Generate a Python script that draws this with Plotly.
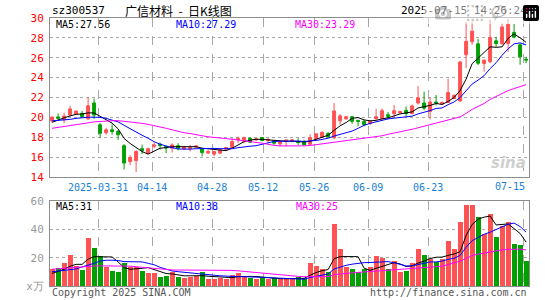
import plotly.graph_objects as go

# ---------------- data ----------------
dates = (
    ["2025-03-%02d" % d for d in [19, 20, 21, 24, 25, 26, 27, 28, 31]]
    + ["2025-04-%02d" % d for d in [1, 2, 3, 7, 8, 9, 10, 11, 14, 15, 16, 17, 18, 21, 22, 23, 24, 25, 28, 29, 30]]
    + ["2025-05-%02d" % d for d in [6, 7, 8, 9, 12, 13, 14, 15, 16, 19, 20, 21, 22, 23, 26, 27, 28, 29, 30]]
    + ["2025-06-%02d" % d for d in [3, 4, 5, 6, 9, 10, 11, 12, 13, 16, 17, 18, 19, 20, 23, 24, 25, 26, 27, 30]]
    + ["2025-07-%02d" % d for d in [1, 2, 3, 4, 7, 8, 9, 10, 11, 14, 15]]
)

opens = [19.63, 20.05, 19.75, 20.25, 20.30, 20.40, 19.85, 21.45, 19.25, 18.45,
         18.75, 18.60, 17.15, 15.55, 15.65, 16.85, 16.35, 17.10, 17.30, 17.07,
         16.90, 17.15, 16.82, 16.85, 17.00, 16.82, 16.42, 16.30, 16.40, 16.80,
         16.97, 17.73, 17.57, 17.90, 17.73, 17.97, 17.67, 17.63, 17.33, 17.57,
         17.63, 17.57, 17.57, 17.30, 17.85, 18.00, 18.40, 17.95, 19.65, 19.85,
         20.07, 19.70, 19.60, 19.37, 19.87, 19.87, 20.27, 20.37, 20.45, 20.70,
         20.40, 21.45, 21.45, 20.60, 21.55, 21.35, 21.50, 21.90, 21.65, 26.30,
         27.60, 27.40, 25.43, 25.60, 27.70, 27.43, 27.43, 28.55, 27.30, 25.85]
highs = [20.10, 20.40, 20.47, 21.15, 20.70, 20.65, 22.00, 21.90, 19.45, 18.95,
         19.30, 18.75, 17.30, 16.20, 16.70, 17.25, 16.95, 17.47, 17.47, 17.13,
         17.40, 17.40, 17.10, 17.23, 17.15, 16.90, 16.73, 16.63, 16.83, 17.00,
         17.90, 18.07, 18.07, 17.97, 17.90, 18.00, 17.90, 17.73, 17.60, 17.75,
         17.80, 17.90, 17.73, 18.30, 18.35, 18.60, 18.50, 21.45, 20.35, 20.15,
         20.10, 19.75, 19.75, 19.75, 20.85, 20.90, 20.55, 21.25, 20.65, 21.10,
         21.30, 23.15, 22.60, 22.00, 22.25, 21.60, 23.90, 22.30, 25.70, 29.60,
         29.65, 27.90, 25.80, 29.85, 28.10, 29.45, 29.90, 29.40, 27.45, 26.10]
lows = [19.50, 19.65, 19.40, 20.05, 20.25, 20.00, 19.75, 19.85, 17.90, 18.25,
        18.25, 17.75, 14.75, 15.20, 14.50, 16.30, 16.30, 16.90, 16.75, 16.40,
        16.47, 16.67, 16.70, 16.57, 16.95, 16.07, 16.30, 16.10, 16.30, 16.70,
        16.90, 17.40, 17.40, 17.45, 17.60, 17.60, 17.40, 17.23, 17.07, 17.07,
        17.50, 17.23, 17.17, 17.20, 17.70, 17.95, 17.95, 17.80, 19.25, 19.75,
        19.35, 19.10, 19.10, 19.25, 19.75, 19.77, 19.80, 20.00, 20.40, 20.10,
        20.30, 21.30, 20.75, 19.80, 21.20, 21.30, 21.45, 21.85, 21.60, 24.95,
        27.30, 25.25, 24.60, 25.43, 27.10, 27.27, 26.60, 27.95, 25.30, 25.45]
closes = [20.03, 19.90, 20.13, 20.85, 20.63, 20.07, 21.17, 20.23, 18.40, 18.75,
          18.57, 18.25, 15.40, 15.97, 16.57, 16.65, 16.85, 17.22, 17.17, 16.92,
          17.23, 16.90, 17.07, 16.97, 17.13, 16.47, 16.57, 16.57, 16.73, 16.97,
          17.57, 17.90, 17.97, 17.50, 17.83, 17.67, 17.80, 17.40, 17.57, 17.73,
          17.73, 17.47, 17.23, 17.97, 18.35, 18.50, 18.05, 20.65, 20.15, 20.07,
          19.60, 19.60, 19.27, 19.60, 20.07, 20.67, 20.10, 20.67, 20.60, 20.40,
          21.15, 21.97, 20.93, 21.55, 21.45, 21.50, 22.50, 22.23, 25.57, 27.65,
          28.67, 25.45, 25.77, 28.05, 27.43, 29.10, 29.35, 28.10, 26.10, 25.77]

ma5 = [19.50, 19.75, 19.95, 20.15, 20.30, 20.35, 20.45, 20.45, 20.10, 19.72,
       19.42, 18.85, 17.88, 17.38, 16.95, 16.56, 16.30, 16.60, 16.90, 16.95,
       17.05, 17.05, 17.05, 17.00, 17.05, 16.90, 16.83, 16.73, 16.65, 16.65,
       16.90, 17.20, 17.55, 17.70, 17.80, 17.78, 17.73, 17.65, 17.60, 17.60,
       17.60, 17.58, 17.52, 17.60, 17.80, 17.98, 18.20, 18.70, 19.15, 19.48,
       19.90, 19.98, 19.75, 19.65, 19.70, 19.85, 19.95, 20.15, 20.35, 20.45,
       20.55, 20.95, 21.05, 21.20, 21.40, 21.30, 21.60, 22.00, 22.70, 23.85,
       25.40, 26.00, 26.50, 27.10, 27.05, 27.10, 27.95, 28.40, 28.00, 27.56]
ma10 = [19.65, 19.68, 19.72, 19.80, 19.90, 19.97, 20.02, 20.02, 20.00, 19.90,
        19.75, 19.55, 19.20, 18.85, 18.50, 18.20, 17.90, 17.55, 17.30, 17.10,
        16.95, 16.82, 16.78, 16.80, 16.85, 16.88, 16.90, 16.88, 16.85, 16.85,
        16.85, 16.95, 17.05, 17.10, 17.15, 17.30, 17.45, 17.58, 17.60, 17.62,
        17.65, 17.62, 17.58, 17.60, 17.68, 17.78, 17.90, 18.12, 18.30, 18.48,
        18.62, 18.90, 19.20, 19.40, 19.55, 19.75, 19.85, 19.92, 19.98, 20.05,
        20.12, 20.35, 20.50, 20.68, 20.90, 20.95, 21.28, 21.55, 22.00, 22.65,
        23.35, 23.75, 24.20, 24.90, 25.50, 26.25, 26.90, 27.40, 27.50, 27.29]
ma30 = [18.90, 18.98, 19.06, 19.15, 19.25, 19.33, 19.45, 19.55, 19.60, 19.63,
        19.66, 19.67, 19.62, 19.57, 19.50, 19.40, 19.30, 19.18, 19.07, 18.90,
        18.75, 18.60, 18.45, 18.38, 18.30, 18.15, 18.05, 18.00, 17.92, 17.85,
        17.80, 17.72, 17.62, 17.55, 17.48, 17.40, 17.28, 17.18, 17.13, 17.12,
        17.12, 17.13, 17.13, 17.17, 17.25, 17.33, 17.40, 17.55, 17.62, 17.70,
        17.77, 17.85, 17.95, 18.00, 18.07, 18.15, 18.30, 18.45, 18.58, 18.68,
        18.80, 18.95, 19.10, 19.25, 19.40, 19.55, 19.70, 19.85, 20.05, 20.40,
        20.80, 21.10, 21.40, 21.80, 22.10, 22.40, 22.70, 22.90, 23.10, 23.29]

volume = [11.8, 12.9, 16.5, 21.9, 14.1, 11.3, 34.1, 27.1, 21.2, 13.6,
          10.8, 10.1, 16.5, 13.2, 13.6, 10.8, 9.4, 8.9, 6.4, 7.1,
          10.1, 6.6, 5.9, 6.6, 7.1, 10.1, 5.2, 5.2, 5.9, 5.2,
          7.8, 9.4, 7.1, 5.9, 4.7, 5.4, 4.7, 5.4, 5.4, 5.4,
          5.4, 6.1, 5.4, 16.5, 14.1, 12.0, 10.1, 43.8, 26.1, 13.6,
          12.0, 10.1, 12.0, 13.2, 21.2, 20.0, 12.0, 17.6, 10.1, 10.8,
          16.5, 26.1, 21.9, 18.8, 17.2, 18.8, 31.8, 26.1, 44.9, 57.2,
          57.2, 48.9, 36.5, 50.8, 34.8, 42.4, 44.9, 29.6, 28.9, 17.9]
vma5 = [8.9, 10.3, 11.8, 14.0, 15.3, 15.3, 19.0, 20.7, 20.8, 20.7,
        20.5, 17.0, 13.0, 11.8, 11.9, 12.5, 13.0, 11.5, 10.0, 8.8,
        8.5, 7.9, 7.2, 7.2, 7.3, 7.3, 6.9, 6.7, 6.6, 6.3,
        5.9, 6.6, 6.9, 6.8, 6.7, 6.3, 5.6, 5.3, 5.2, 5.1,
        5.2, 5.4, 5.4, 7.6, 9.5, 10.8, 11.6, 19.3, 20.7, 20.8,
        20.9, 20.7, 12.6, 11.0, 12.5, 14.0, 15.3, 16.5, 15.6, 13.8,
        14.2, 16.2, 17.5, 19.4, 20.3, 20.4, 21.6, 22.6, 24.2, 35.6,
        43.4, 47.2, 48.6, 49.4, 43.1, 43.4, 43.8, 40.5, 37.1, 31.0]
vma10 = [10.1, 10.5, 11.0, 11.3, 12.0, 13.5, 14.5, 16.0, 17.6, 18.2,
         18.2, 18.0, 17.2, 17.0, 17.0, 17.0, 16.0, 15.0, 13.2, 12.0,
         10.6, 10.1, 9.6, 9.2, 8.9, 8.6, 8.1, 7.6, 7.2, 6.9,
         6.7, 6.6, 6.6, 6.4, 6.2, 6.1, 6.0, 5.9, 5.6, 5.2,
         4.9, 4.8, 4.8, 6.0, 6.8, 7.6, 8.5, 12.0, 13.5, 14.6,
         15.4, 16.1, 16.5, 16.6, 16.9, 17.2, 17.2, 16.4, 15.3, 14.1,
         14.2, 15.0, 16.1, 17.0, 17.0, 17.6, 18.8, 19.6, 21.5, 27.4,
         32.0, 34.3, 36.5, 38.0, 40.0, 41.9, 43.6, 44.4, 42.0, 38.0]
vma30 = [11.8, 12.2, 12.6, 13.0, 13.3, 13.6, 14.0, 14.1, 14.2, 14.2,
         14.2, 14.2, 14.1, 14.0, 13.6, 13.2, 12.8, 12.3, 11.8, 11.4,
         11.3, 11.3, 11.3, 11.3, 11.3, 11.3, 11.3, 11.3, 11.3, 11.2,
         11.0, 10.7, 10.3, 10.0, 9.6, 9.2, 8.8, 8.2, 7.6, 7.2,
         7.0, 6.8, 6.6, 6.6, 6.6, 6.6, 6.6, 8.0, 8.6, 9.0,
         9.3, 9.6, 9.9, 10.1, 10.4, 10.7, 10.9, 11.1, 11.3, 11.6,
         12.0, 12.5, 13.0, 13.3, 13.6, 14.0, 15.0, 16.2, 17.5, 19.5,
         21.5, 22.5, 23.3, 24.2, 24.8, 25.5, 25.8, 26.0, 26.0, 25.5]

tick_labels = ["2025-03-31", "04-14", "04-28", "05-12", "05-26", "06-09", "06-23", "07-15"]
price_ticks = [14, 16, 18, 20, 22, 24, 26, 28, 30]
vol_ticks = [0, 20, 40, 60]
vol_tick_text = ["x万", "20", "40", "60"]

code = "sz300537"
name_title = "广信材料\u00a0\u00a0-\u00a0\u00a0日K线图"
stamp = "2025-07-15 14:26:24"
last_ma = ("27.56", "27.29", "23.29")
last_vma = ("31", "38", "25")

# ---------------- styling ----------------
RED = "#ff5252"
GREEN = "#00a000"
GRID = "#a8a8a8"
FRAME = "#8c8c8c"
MONO = "DejaVu Sans Mono"

x = list(range(len(dates)))
# positions of the dashed date lines, in bar units, as they appear in the picture
tick_pos = [7.67, 16.67, 26.67, 35.17, 43.67, 52.67, 62.67, 78.5]

W, H = 545, 300
L, R, T, B = 50, 16, 18, 14
plot_h = H - T - B
plot_w = W - L - R


def py(pix):
    """pixel row -> paper y"""
    return (H - B - pix) / plot_h


def px(pix):
    return (pix - L) / plot_w


fig = go.Figure()

fig.add_trace(go.Candlestick(
    x=x, open=opens, high=highs, low=lows, close=closes,
    increasing=dict(line=dict(color=RED, width=1), fillcolor=RED),
    decreasing=dict(line=dict(color=GREEN, width=1), fillcolor=GREEN),
    whiskerwidth=0, xaxis="x", yaxis="y", hoverinfo="skip",
))
for vals, col in [(ma5, "#000000"), (ma10, "#0000ff"), (ma30, "#ff00ff")]:
    fig.add_trace(go.Scatter(x=x, y=vals, mode="lines", line=dict(color=col, width=1),
                             xaxis="x", yaxis="y", hoverinfo="skip"))

bar_colors = [RED if c >= o else GREEN for o, c in zip(opens, closes)]
fig.add_trace(go.Bar(x=x, y=volume, marker=dict(color=bar_colors, line=dict(width=0)),
                     width=0.82, xaxis="x2", yaxis="y2", hoverinfo="skip"))
for vals, col in [(vma5, "#000000"), (vma10, "#0000ff"), (vma30, "#ff00ff")]:
    fig.add_trace(go.Scatter(x=x, y=vals, mode="lines", line=dict(color=col, width=1),
                             xaxis="x2", yaxis="y2", hoverinfo="skip"))

xr = [-0.35, -0.35 + plot_w / 6.0]
main_bottom = py(177)
vol_top = py(201)

axis_common = dict(showline=True, mirror=True, linecolor=FRAME, linewidth=1,
                   zeroline=False, ticks="", fixedrange=True, automargin=False)

fig.update_layout(
    width=W, height=H,
    margin=dict(l=L, r=R, t=T, b=B, autoexpand=False),
    paper_bgcolor="white", plot_bgcolor="white",
    showlegend=False, bargap=0,
    xaxis=dict(domain=[0, 1], anchor="y", range=xr, rangeslider=dict(visible=False),
               tickmode="array", tickvals=tick_pos,
               ticktext=tick_labels[:-1] + [""],
               tickfont=dict(family=MONO, size=10, color="#1a7fd6"),
               showgrid=True, gridcolor=GRID, griddash="dash", gridwidth=1,
               ticklabelstandoff=1, **axis_common),
    yaxis=dict(domain=[main_bottom, 1], anchor="x", range=[14, 30],
               tickmode="array", tickvals=price_ticks,
               tickfont=dict(family=MONO, size=11, color="#ff0000"),
               showgrid=True, gridcolor=GRID, griddash="dot", gridwidth=1,
               ticklabelstandoff=3, **axis_common),
    xaxis2=dict(domain=[0, 1], anchor="y2", range=xr, matches="x",
                tickmode="array", tickvals=tick_pos, showticklabels=False,
                showgrid=True, gridcolor=GRID, griddash="dash", gridwidth=1,
                **axis_common),
    yaxis2=dict(domain=[0, vol_top], anchor="x2", range=[0, 60],
                tickmode="array", tickvals=vol_ticks, ticktext=vol_tick_text,
                tickfont=dict(family=MONO, size=11, color="#999999"),
                showgrid=True, gridcolor=GRID, griddash="dot", gridwidth=1,
                ticklabelstandoff=3, **axis_common),
)

ann = []


def text(xp, yp, s, color="#000000", size=10, family=MONO, xanchor="left"):
    ann.append(dict(xref="paper", yref="paper", x=px(xp), y=py(yp), text=s,
                    showarrow=False, xanchor=xanchor, yanchor="middle",
                    font=dict(family=family, size=size, color=color)))


text(50, 11, code, size=11)
text(178, 11, name_title, size=12, family="Noto Sans CJK SC", xanchor="center")
text(529, 11, stamp, size=11, xanchor="right")
text(54, 24.5, "MA5:" + last_ma[0])
text(174, 24.5, "MA10:" + last_ma[1], color="#0000ff")
text(293, 24.5, "MA30:" + last_ma[2], color="#ff00ff")
text(54, 206.5, "MA5:" + last_vma[0])
text(174, 206.5, "MA10:" + last_vma[1], color="#0000ff")
text(294, 206.5, "MA30:" + last_vma[2], color="#ff00ff")
text(527, 186, tick_labels[-1], color="#1a7fd6", xanchor="right")
text(50, 292.5, "Copyright 2025 SINA.COM", color="#555555")
text(529, 292.5, "http://finance.sina.com.cn", color="#555555", xanchor="right")
text(528, 163, "<b><i>sina</i></b>", color="#cfcfcf", size=15, family="DejaVu Sans", xanchor="right")
fig.update_layout(annotations=ann)

# the page body gets no margin so the 545x300 figure fills the window exactly
fig.write_html("out.html",
               post_script="document.body.style.margin='0';document.body.style.overflow='hidden';")
